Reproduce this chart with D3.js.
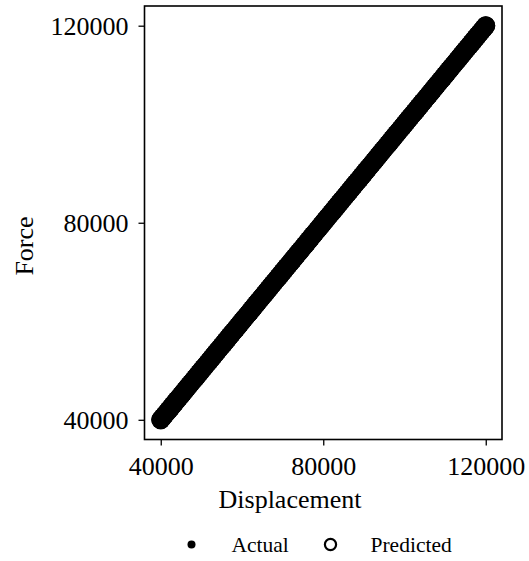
<!DOCTYPE html>
<html>
<head>
<meta charset="utf-8">
<script src="https://cdn.jsdelivr.net/npm/d3@7"></script>
<style>
  html, body { margin: 0; padding: 0; background: #fff; }
  svg { display: block; }
  text { font-family: "Liberation Serif", "Times New Roman", serif; fill: #000; }
</style>
</head>
<body>
<svg id="chart" width="529" height="561"></svg>
<script>
// Data: actual and predicted lie on the identity line
const displacement = [40000,40500,41000,41500,42000,42500,43000,43500,44000,44500,45000,45500,46000,46500,47000,47500,48000,48500,49000,49500,
  50000,50500,51000,51500,52000,52500,53000,53500,54000,54500,55000,55500,56000,56500,57000,57500,58000,58500,59000,59500,
  60000,60500,61000,61500,62000,62500,63000,63500,64000,64500,65000,65500,66000,66500,67000,67500,68000,68500,69000,69500,
  70000,70500,71000,71500,72000,72500,73000,73500,74000,74500,75000,75500,76000,76500,77000,77500,78000,78500,79000,79500,
  80000,80500,81000,81500,82000,82500,83000,83500,84000,84500,85000,85500,86000,86500,87000,87500,88000,88500,89000,89500,
  90000,90500,91000,91500,92000,92500,93000,93500,94000,94500,95000,95500,96000,96500,97000,97500,98000,98500,99000,99500,
  100000,100500,101000,101500,102000,102500,103000,103500,104000,104500,105000,105500,106000,106500,107000,107500,108000,108500,109000,109500,
  110000,110500,111000,111500,112000,112500,113000,113500,114000,114500,115000,115500,116000,116500,117000,117500,118000,118500,119000,119500,120000];
const forceActual = [40000,40500,41000,41500,42000,42500,43000,43500,44000,44500,45000,45500,46000,46500,47000,47500,48000,48500,49000,49500,
  50000,50500,51000,51500,52000,52500,53000,53500,54000,54500,55000,55500,56000,56500,57000,57500,58000,58500,59000,59500,
  60000,60500,61000,61500,62000,62500,63000,63500,64000,64500,65000,65500,66000,66500,67000,67500,68000,68500,69000,69500,
  70000,70500,71000,71500,72000,72500,73000,73500,74000,74500,75000,75500,76000,76500,77000,77500,78000,78500,79000,79500,
  80000,80500,81000,81500,82000,82500,83000,83500,84000,84500,85000,85500,86000,86500,87000,87500,88000,88500,89000,89500,
  90000,90500,91000,91500,92000,92500,93000,93500,94000,94500,95000,95500,96000,96500,97000,97500,98000,98500,99000,99500,
  100000,100500,101000,101500,102000,102500,103000,103500,104000,104500,105000,105500,106000,106500,107000,107500,108000,108500,109000,109500,
  110000,110500,111000,111500,112000,112500,113000,113500,114000,114500,115000,115500,116000,116500,117000,117500,118000,118500,119000,119500,120000];
const forcePredicted = [40000,40500,41000,41500,42000,42500,43000,43500,44000,44500,45000,45500,46000,46500,47000,47500,48000,48500,49000,49500,
  50000,50500,51000,51500,52000,52500,53000,53500,54000,54500,55000,55500,56000,56500,57000,57500,58000,58500,59000,59500,
  60000,60500,61000,61500,62000,62500,63000,63500,64000,64500,65000,65500,66000,66500,67000,67500,68000,68500,69000,69500,
  70000,70500,71000,71500,72000,72500,73000,73500,74000,74500,75000,75500,76000,76500,77000,77500,78000,78500,79000,79500,
  80000,80500,81000,81500,82000,82500,83000,83500,84000,84500,85000,85500,86000,86500,87000,87500,88000,88500,89000,89500,
  90000,90500,91000,91500,92000,92500,93000,93500,94000,94500,95000,95500,96000,96500,97000,97500,98000,98500,99000,99500,
  100000,100500,101000,101500,102000,102500,103000,103500,104000,104500,105000,105500,106000,106500,107000,107500,108000,108500,109000,109500,
  110000,110500,111000,111500,112000,112500,113000,113500,114000,114500,115000,115500,116000,116500,117000,117500,118000,118500,119000,119500,120000];
const xTicks = [40000, 80000, 120000];
const yTicks = [40000, 80000, 120000];
const legendLabels = ["Actual", "Predicted"];

const svg = d3.select("#chart");
const L = 144.5, R = 502, T = 6, B = 439.5;
const x = d3.scaleLinear().domain([36000, 124000]).range([L, R]);
const y = d3.scaleLinear().domain([36000, 124000]).range([B, T]);

// points
const predData = displacement.map((d, i) => ({x: d, y: forcePredicted[i]}));
const actData = displacement.map((d, i) => ({x: d, y: forceActual[i]}));

svg.append("g").selectAll("circle").data(predData).join("circle")
  .attr("cx", d => x(d.x)).attr("cy", d => y(d.y)).attr("r", 8.5)
  .attr("fill", "none").attr("stroke", "#000").attr("stroke-width", 2);
svg.append("g").selectAll("circle").data(actData).join("circle")
  .attr("cx", d => x(d.x)).attr("cy", d => y(d.y)).attr("r", 9.5)
  .attr("fill", "#000");

// axes
const xAxis = d3.axisBottom(x).tickValues(xTicks).tickSize(6).tickPadding(6).tickFormat(d3.format("d"));
const yAxis = d3.axisLeft(y).tickValues(yTicks).tickSize(6).tickPadding(10).tickFormat(d3.format("d"));

const gx = svg.append("g").attr("transform", `translate(0,${B})`).call(xAxis);
const gy = svg.append("g").attr("transform", `translate(${L},0)`).call(yAxis);
[gx, gy].forEach(g => {
  g.select(".domain").remove();
  g.selectAll(".tick line").attr("stroke", "#000").attr("stroke-width", 1.3);
  g.selectAll(".tick text").style("font-family", '"Liberation Serif", serif').style("font-size", "26px").attr("fill", "#000");
});
gx.selectAll(".tick text").attr("dy", null).attr("y", 35);
gy.selectAll(".tick text").attr("dy", "0.33em");

// frame
svg.append("rect").attr("x", L).attr("y", T).attr("width", R - L).attr("height", B - T)
  .attr("fill", "none").attr("stroke", "#000").attr("stroke-width", 1.6);

// axis labels
svg.append("text").attr("x", 290).attr("y", 508).attr("text-anchor", "middle")
  .style("font-size", "26px").text("Displacement");
svg.append("text").attr("transform", "translate(33,246) rotate(-90)").attr("text-anchor", "middle")
  .style("font-size", "26px").text("Force");

// legend
const lg = svg.append("g");
lg.append("circle").attr("cx", 191.5).attr("cy", 544.5).attr("r", 4).attr("fill", "#000");
lg.append("text").attr("x", 231.5).attr("y", 552).style("font-size", "21.5px").text(legendLabels[0]);
lg.append("circle").attr("cx", 330.5).attr("cy", 544.5).attr("r", 5.6).attr("fill", "none").attr("stroke", "#000").attr("stroke-width", 2.2);
lg.append("text").attr("x", 370.5).attr("y", 552).style("font-size", "21.5px").text(legendLabels[1]);
</script>
</body>
</html>
